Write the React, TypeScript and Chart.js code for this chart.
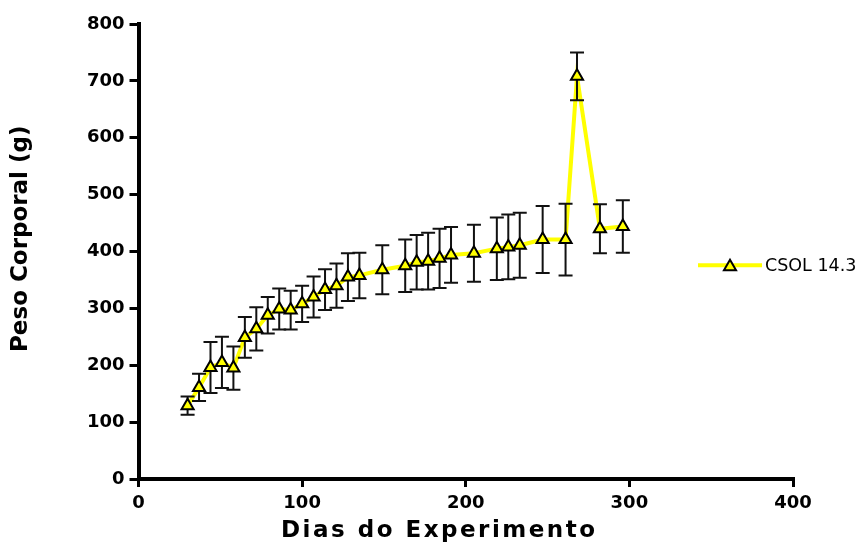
import React, { useEffect, useRef } from 'react';
import { Chart, registerables } from 'chart.js';

Chart.register(...registerables);

// ---- data ----
const days = [30, 37, 44, 51, 58, 65, 72, 79, 86, 93, 100, 107, 114, 121, 128, 135, 149, 163, 170, 177, 184, 191, 205, 219, 226, 233, 247, 261, 268, 282, 296];
const weights = [129, 161, 196, 205, 195, 249, 264, 288, 299, 297, 308, 320, 333, 340, 355, 358, 368, 375, 381, 383, 388, 394, 397, 405, 408, 411, 421, 421, 708, 440, 444];
const errors = [16, 24, 45, 45, 38, 36, 38, 32, 36, 34, 32, 36, 36, 39, 42, 40, 43, 46, 48, 50, 52, 49, 50, 55, 57, 57, 59, 63, 42, 43, 46];
const xTicks = [0, 100, 200, 300, 400];
const yTicks = [0, 100, 200, 300, 400, 500, 600, 700, 800];
const seriesLabel = 'CSOL 14.3';
const xTitle = 'Dias do Experimento';
const yTitle = 'Peso Corporal (g)';

const YELLOW = '#FFFF00';
const BOLD = '"DejaVu Sans", sans-serif';

function drawTriangle(ctx: CanvasRenderingContext2D, x: number, y: number, r: number) {
  ctx.beginPath();
  for (let k = 0; k < 3; k++) {
    const a = (k * 2 * Math.PI) / 3;
    const px = x + Math.sin(a) * r;
    const py = y - Math.cos(a) * r;
    if (k === 0) ctx.moveTo(px, py);
    else ctx.lineTo(px, py);
  }
  ctx.closePath();
  ctx.fillStyle = YELLOW;
  ctx.fill();
  ctx.lineWidth = 2;
  ctx.strokeStyle = '#000';
  ctx.stroke();
}

const errorBarPlugin = {
  id: 'errorBars',
  afterDatasetDraw(chart: any, args: any) {
    if (args.index !== 0) return;
    const { ctx, scales } = chart;
    const x = scales.x;
    const y = scales.y;
    ctx.save();
    ctx.strokeStyle = '#111';
    ctx.lineWidth = 2;
    days.forEach((d, i) => {
      const px = x.getPixelForValue(d);
      const top = y.getPixelForValue(weights[i] + errors[i]);
      const bot = y.getPixelForValue(weights[i] - errors[i]);
      ctx.beginPath();
      ctx.moveTo(px, top);
      ctx.lineTo(px, bot);
      ctx.moveTo(px - 7, top);
      ctx.lineTo(px + 7, top);
      ctx.moveTo(px - 7, bot);
      ctx.lineTo(px + 7, bot);
      ctx.stroke();
    });
    ctx.restore();
  },
};

const decorPlugin = {
  id: 'decor',
  afterDraw(chart: any) {
    const { ctx, chartArea } = chart;
    const w = chartArea.right - chartArea.left;
    const h = chartArea.bottom - chartArea.top;
    ctx.save();
    // legend
    const ly = chartArea.top + h * 0.53;
    const lx0 = chartArea.right - 95;
    const lx1 = lx0 + 64;
    ctx.strokeStyle = YELLOW;
    ctx.lineWidth = 4;
    ctx.beginPath();
    ctx.moveTo(lx0, ly);
    ctx.lineTo(lx1, ly);
    ctx.stroke();
    drawTriangle(ctx, (lx0 + lx1) / 2, ly + 1.5, 7);
    ctx.fillStyle = '#000';
    ctx.font = `17.5px "DejaVu Sans", sans-serif`;
    ctx.textBaseline = 'middle';
    ctx.textAlign = 'left';
    ctx.fillText(seriesLabel, lx1 + 3, ly + 1);
    // axis titles
    ctx.font = `bold 23px ${BOLD}`;
    ctx.textAlign = 'center';
    (ctx as any).letterSpacing = '2.5px';
    ctx.fillText(xTitle, chartArea.left + w * 0.458 + 1, chartArea.bottom + 52);
    (ctx as any).letterSpacing = '0px';
    ctx.translate(21, chartArea.top + h * 0.472);
    ctx.rotate(-Math.PI / 2);
    ctx.fillText(yTitle, 0, 0);
    ctx.restore();
  },
};

export default function App() {
  const ref = useRef<HTMLCanvasElement>(null);
  useEffect(() => {
    document.body.style.margin = '0';
    const canvas = ref.current;
    if (!canvas) return;
    const points = days.map((d, i) => ({ x: d, y: weights[i] }));
    const chart = new Chart(canvas, {
      type: 'line',
      data: {
        datasets: [
          {
            label: seriesLabel,
            data: points,
            borderColor: YELLOW,
            borderWidth: 4,
            pointRadius: 0,
            fill: false,
            tension: 0,
            order: 2,
          },
          {
            label: seriesLabel + ' markers',
            data: points,
            showLine: false,
            pointStyle: 'triangle',
            pointRadius: 7,
            pointBackgroundColor: YELLOW,
            pointBorderColor: '#000',
            pointBorderWidth: 2,
            order: 1,
          },
        ],
      },
      options: {
        animation: false,
        responsive: false,
        events: [],
        layout: { padding: { top: 24, right: 62, left: 0, bottom: 0 } },
        plugins: {
          legend: { display: false },
          tooltip: { enabled: false },
        },
        scales: {
          x: {
            type: 'linear',
            min: 0,
            max: 400,
            afterBuildTicks: (s: any) => {
              s.ticks = xTicks.map((v) => ({ value: v }));
            },
            afterFit: (s: any) => {
              s.height = 70;
            },
            ticks: {
              color: '#000',
              font: { family: BOLD, size: 18, weight: 'bold' },
              padding: 6,
              maxRotation: 0,
            },
            grid: {
              drawOnChartArea: false,
              drawTicks: true,
              tickLength: 8,
              lineWidth: 3,
              color: '#000',
            },
            border: { display: true, color: '#000', width: 4 },
          },
          y: {
            type: 'linear',
            min: 0,
            max: 800,
            afterBuildTicks: (s: any) => {
              s.ticks = yTicks.map((v) => ({ value: v }));
            },
            afterFit: (s: any) => {
              s.width = 138.5;
            },
            ticks: {
              color: '#000',
              font: { family: BOLD, size: 18, weight: 'bold' },
              padding: 5,
            },
            grid: {
              drawOnChartArea: false,
              drawTicks: true,
              tickLength: 9,
              lineWidth: 3,
              color: '#000',
            },
            border: { display: true, color: '#000', width: 4 },
          },
        },
      },
      plugins: [errorBarPlugin, decorPlugin],
    });
    return () => chart.destroy();
  }, []);
  return (
    <div style={{ width: 855, height: 549, background: '#fff' }}>
      <canvas ref={ref} width={855} height={549} style={{ display: 'block' }} />
    </div>
  );
}
